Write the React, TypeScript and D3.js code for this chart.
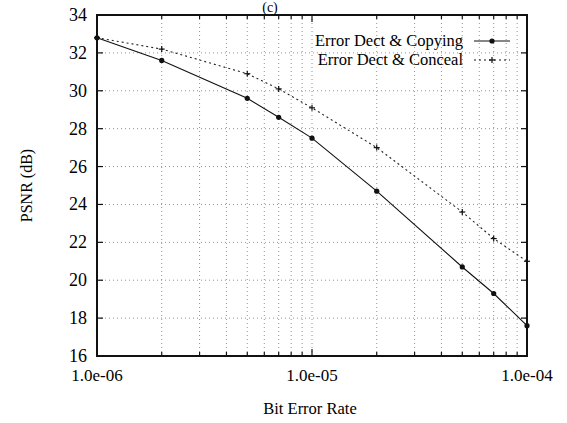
import React, { useEffect, useRef } from "react";
import * as d3 from "d3";

// --- Data ---
const berValues = [1e-6, 2e-6, 5e-6, 7e-6, 1e-5, 2e-5, 5e-5, 7e-5, 1e-4];
const copyingPsnr = [32.8, 31.6, 29.6, 28.6, 27.5, 24.7, 20.7, 19.3, 17.6];
const concealPsnr = [32.8, 32.2, 30.9, 30.1, 29.1, 27.0, 23.6, 22.2, 21.0];
const seriesNames = ["Error Dect & Copying", "Error Dect & Conceal"];
const yTicks = [16, 18, 20, 22, 24, 26, 28, 30, 32, 34];
const xMajorTicks = [1e-6, 1e-5, 1e-4];
const xTickLabels = ["1.0e-06", "1.0e-05", "1.0e-04"];

const W = 567;
const H = 423;
const FONT = "Liberation Serif, DejaVu Serif, serif";

const App: React.FC = () => {
  const svgRef = useRef<SVGSVGElement>(null);

  useEffect(() => {
    if (!svgRef.current) return;
    const svg = d3.select(svgRef.current);
    svg.selectAll("*").remove();

    const margin = { top: 15, right: 40, bottom: 67, left: 97 };
    const x = d3
      .scaleLog()
      .domain([1e-6, 1e-4])
      .range([margin.left, W - margin.right]);
    const y = d3
      .scaleLinear()
      .domain([16, 34])
      .range([H - margin.bottom, margin.top]);

    const [x0, x1] = x.range();
    const [y0, y1] = y.range();

    // minor x ticks: 2..9 per decade
    const xMinor: number[] = [];
    [1e-6, 1e-5].forEach((dec) => {
      for (let k = 2; k <= 9; k++) xMinor.push(dec * k);
    });

    // grid
    const grid = svg
      .append("g")
      .attr("stroke", "#777")
      .attr("stroke-width", 0.8)
      .attr("stroke-dasharray", "1,3");
    [...xMinor, 1e-5].forEach((v) => {
      grid.append("line").attr("x1", x(v)).attr("x2", x(v)).attr("y1", y0).attr("y2", y1);
    });
    yTicks.slice(1, -1).forEach((v) => {
      grid.append("line").attr("x1", x0).attr("x2", x1).attr("y1", y(v)).attr("y2", y(v));
    });

    // ticks (inward, all four sides)
    const ticks = svg.append("g").attr("stroke", "#111").attr("stroke-width", 1.2);
    yTicks.forEach((v) => {
      ticks.append("line").attr("x1", x0).attr("x2", x0 + 6).attr("y1", y(v)).attr("y2", y(v));
      ticks.append("line").attr("x1", x1).attr("x2", x1 - 6).attr("y1", y(v)).attr("y2", y(v));
    });
    [...xMinor, ...xMajorTicks].forEach((v) => {
      const len = xMajorTicks.includes(v) ? 7 : 4;
      ticks.append("line").attr("x1", x(v)).attr("x2", x(v)).attr("y1", y0).attr("y2", y0 - len);
      ticks.append("line").attr("x1", x(v)).attr("x2", x(v)).attr("y1", y1).attr("y2", y1 + len);
    });

    // frame
    svg
      .append("rect")
      .attr("x", x0)
      .attr("y", y1)
      .attr("width", x1 - x0)
      .attr("height", y0 - y1)
      .attr("fill", "none")
      .attr("stroke", "#111")
      .attr("stroke-width", 2);

    // tick labels
    svg
      .append("g")
      .selectAll("text")
      .data(yTicks)
      .enter()
      .append("text")
      .attr("x", x0 - 10)
      .attr("y", (d) => y(d) + 6)
      .attr("text-anchor", "end")
      .attr("font-size", 18)
      .text((d) => d);

    svg
      .append("g")
      .selectAll("text")
      .data(xMajorTicks)
      .enter()
      .append("text")
      .attr("x", (d) => x(d))
      .attr("y", y0 + 25)
      .attr("text-anchor", "middle")
      .attr("font-size", 17)
      .text((_, i) => xTickLabels[i]);

    // axis titles
    svg
      .append("text")
      .attr("transform", `translate(32,${(y0 + y1) / 2}) rotate(-90)`)
      .attr("text-anchor", "middle")
      .attr("font-size", 16)
      .text("PSNR (dB)");
    svg
      .append("text")
      .attr("x", 310)
      .attr("y", 414)
      .attr("text-anchor", "middle")
      .attr("font-size", 16.5)
      .text("Bit Error Rate");
    svg
      .append("text")
      .attr("x", 270)
      .attr("y", 12)
      .attr("text-anchor", "middle")
      .attr("font-size", 14)
      .text("(c)");

    const line = d3
      .line<number>()
      .x((_, i) => x(berValues[i]))
      .y((d) => y(d));

    // copying: solid with dots
    svg
      .append("path")
      .datum(copyingPsnr)
      .attr("d", line)
      .attr("fill", "none")
      .attr("stroke", "#111")
      .attr("stroke-width", 1.1);
    svg
      .append("g")
      .selectAll("circle")
      .data(copyingPsnr)
      .enter()
      .append("circle")
      .attr("cx", (_, i) => x(berValues[i]))
      .attr("cy", (d) => y(d))
      .attr("r", 2.6)
      .attr("fill", "#111");

    // conceal: dotted with plus markers
    svg
      .append("path")
      .datum(concealPsnr)
      .attr("d", line)
      .attr("fill", "none")
      .attr("stroke", "#222")
      .attr("stroke-width", 1.1)
      .attr("stroke-dasharray", "2,3");
    const plus = svg.append("g").attr("stroke", "#111").attr("stroke-width", 1.2);
    concealPsnr.forEach((d, i) => {
      const cx = x(berValues[i]);
      const cy = y(d);
      plus.append("line").attr("x1", cx - 3).attr("x2", cx + 3).attr("y1", cy).attr("y2", cy);
      plus.append("line").attr("x1", cx).attr("x2", cx).attr("y1", cy - 3).attr("y2", cy + 3);
    });

    // legend
    const legX = 463;
    const legY = [41, 60];
    seriesNames.forEach((name, i) => {
      svg
        .append("text")
        .attr("x", legX)
        .attr("y", legY[i] + 5)
        .attr("text-anchor", "end")
        .attr("font-size", 16.5)
        .text(name);
      svg
        .append("line")
        .attr("x1", 474)
        .attr("x2", 510)
        .attr("y1", legY[i])
        .attr("y2", legY[i])
        .attr("stroke", "#111")
        .attr("stroke-width", 1.1)
        .attr("stroke-dasharray", i === 0 ? null : "2,3");
      const mx = 492;
      if (i === 0) {
        svg.append("circle").attr("cx", mx).attr("cy", legY[i]).attr("r", 2.6).attr("fill", "#111");
      } else {
        plus.append("line").attr("x1", mx - 3).attr("x2", mx + 3).attr("y1", legY[i]).attr("y2", legY[i]);
        plus.append("line").attr("x1", mx).attr("x2", mx).attr("y1", legY[i] - 3).attr("y2", legY[i] + 3);
      }
    });
  }, []);

  return (
    <div style={{ position: "fixed", left: 0, top: 0, background: "#fff", width: W, height: H }}>
      <svg
        ref={svgRef}
        width={W}
        height={H}
        fontFamily={FONT}
        style={{ display: "block", background: "#fff", fontFamily: FONT }}
      />
    </div>
  );
};

export default App;
